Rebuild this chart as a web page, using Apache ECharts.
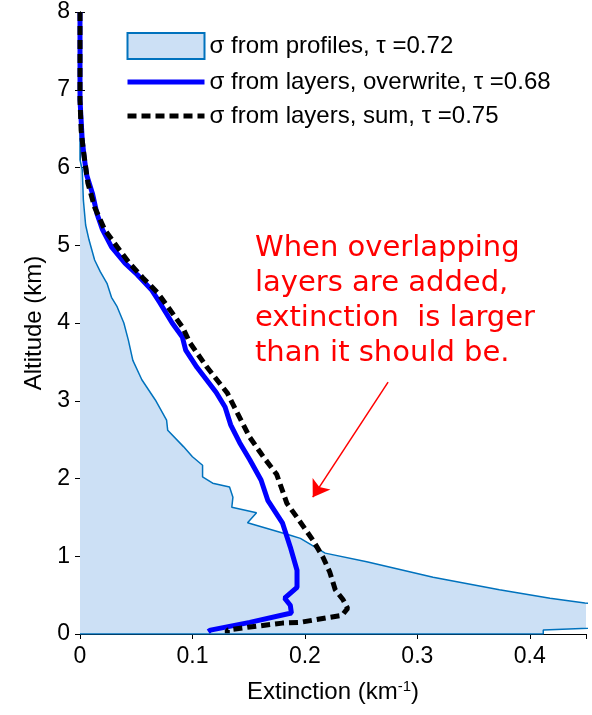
<!DOCTYPE html>
<html><head><meta charset="utf-8">
<script src="https://cdn.jsdelivr.net/npm/echarts@6/dist/echarts.min.js"></script>
<style>html,body{margin:0;padding:0;background:#fff}#c{width:592px;height:715px}</style>
</head><body><div id="c"></div>
<script>
// ---- data ----
const profileX = [0, 0, 0.002, 0.003, 0.005, 0.008, 0.013, 0.018, 0.024, 0.028, 0.033, 0.039, 0.043, 0.047, 0.055, 0.067, 0.077, 0.078, 0.092, 0.100, 0.109, 0.109, 0.118, 0.133, 0.136, 0.135, 0.157, 0.149, 0.187, 0.196, 0.218, 0.255, 0.314, 0.373, 0.418, 0.449, 0.52, 0.55, 0.50, 0.412, 0.412];
const profileY = [8, 6.10, 5.97, 5.58, 5.26, 5.07, 4.81, 4.66, 4.51, 4.33, 4.21, 4.00, 3.78, 3.52, 3.27, 3.01, 2.75, 2.62, 2.41, 2.28, 2.17, 2.02, 1.94, 1.89, 1.76, 1.63, 1.56, 1.43, 1.27, 1.23, 1.04, 0.93, 0.73, 0.57, 0.46, 0.40, 0.28, 0.15, 0.10, 0.05, 0];
const overwriteX = [0, 0, 0.001, 0.002, 0.004, 0.006, 0.011, 0.015, 0.020, 0.028, 0.040, 0.051, 0.064, 0.071, 0.082, 0.091, 0.094, 0.104, 0.121, 0.129, 0.134, 0.142, 0.151, 0.161, 0.167, 0.180, 0.187, 0.193, 0.193, 0.182, 0.187, 0.188, 0.151, 0.116, 0.114];
const overwriteY = [8.0, 6.87, 6.61, 6.35, 6.10, 5.90, 5.67, 5.41, 5.20, 4.98, 4.77, 4.62, 4.42, 4.26, 4.00, 3.82, 3.65, 3.43, 3.11, 2.92, 2.69, 2.46, 2.24, 1.98, 1.72, 1.43, 1.12, 0.82, 0.60, 0.46, 0.37, 0.27, 0.15, 0.05, 0.03];
const sumX = [0, 0, 0.001, 0.003, 0.007, 0.013, 0.022, 0.033, 0.044, 0.056, 0.069, 0.080, 0.091, 0.098, 0.113, 0.131, 0.140, 0.151, 0.163, 0.175, 0.184, 0.193, 0.207, 0.216, 0.222, 0.227, 0.234, 0.238, 0.233, 0.220, 0.196, 0.180, 0.151, 0.131, 0.131];
const sumY = [8, 6.87, 6.48, 6.22, 5.80, 5.49, 5.20, 4.98, 4.77, 4.58, 4.39, 4.17, 3.95, 3.74, 3.43, 3.10, 2.84, 2.53, 2.28, 2.05, 1.68, 1.50, 1.21, 0.99, 0.80, 0.57, 0.44, 0.33, 0.24, 0.21, 0.15, 0.14, 0.09, 0.05, 0.01];
const xTickValues = [0, 0.1, 0.2, 0.3, 0.4];
const xTickLabels = ['0', '0.1', '0.2', '0.3', '0.4'];
const yTickValues = [0, 1, 2, 3, 4, 5, 6, 7, 8];
const yTickLabels = ['0', '1', '2', '3', '4', '5', '6', '7', '8'];
const seriesNames = ['σ from profiles, τ =0.72', 'σ from layers, overwrite, τ =0.68', 'σ from layers, sum, τ =0.75'];
const noteLines = ['When overlapping', 'layers are added,', 'extinction  is larger', 'than it should be.'];
const arrowFrom = [0.274, 3.24];
const arrowTo = [0.207, 1.76];

// ---- chart ----
const zip = (xs, ys) => xs.map((x, i) => [x, ys[i]]);
const fillColor = '#cce0f5';
const profileColor = '#0072BD';
const tickFmt = (vals, labs) => v => { const i = vals.findIndex(t => Math.abs(t - v) < 1e-9); return i >= 0 ? labs[i] : ''; };
const axisFont = { fontFamily: 'Liberation Sans, Arial, sans-serif', fontSize: 23, color: '#000' };

const chart = echarts.init(document.getElementById('c'), null, { renderer: 'canvas' });
chart.setOption({
  animation: false,
  backgroundColor: '#fff',
  grid: { left: 80, right: 6, top: 12, bottom: 81, containLabel: false },
  xAxis: [{
    type: 'value', min: 0, max: 0.45, interval: 0.1, position: 'bottom',
    axisLine: { lineStyle: { color: '#000', width: 1 } },
    axisTick: { inside: true, length: 5, lineStyle: { color: '#000' } },
    splitLine: { show: false },
    axisLabel: Object.assign({ margin: 11, showMaxLabel: false, formatter: tickFmt(xTickValues, xTickLabels) }, axisFont),
    name: 'Extinction (km{sup|-1})', nameLocation: 'middle', nameGap: 45,
    nameTextStyle: { fontFamily: 'Liberation Sans, Arial, sans-serif', fontSize: 24, color: '#000',
      rich: { sup: { fontFamily: 'Liberation Sans, Arial, sans-serif', fontSize: 15, color: '#000', verticalAlign: 'top', padding: [0, 0, 12, 0] } } }
  }, {
    type: 'value', min: 0, max: 0.45, interval: 0.1, position: 'top',
    axisLine: { lineStyle: { color: '#000', width: 1 } },
    axisTick: { inside: true, length: 5, lineStyle: { color: '#000' } },
    axisLabel: { show: false }, splitLine: { show: false }
  }],
  yAxis: [{
    type: 'value', min: 0, max: 8, interval: 1, position: 'left',
    axisLine: { show: true, lineStyle: { color: '#000', width: 1 } },
    axisTick: { show: true, inside: true, length: 5, lineStyle: { color: '#000' } },
    splitLine: { show: false },
    axisLabel: Object.assign({ margin: 10, formatter: tickFmt(yTickValues, yTickLabels) }, axisFont),
    name: 'Altitude (km)', nameLocation: 'middle', nameGap: 31,
    nameTextStyle: { fontFamily: 'Liberation Sans, Arial, sans-serif', fontSize: 24, color: '#000' }
  }, {
    type: 'value', min: 0, max: 8, interval: 1, position: 'right',
    axisLine: { show: true, lineStyle: { color: '#000', width: 1 } },
    axisTick: { show: true, inside: true, length: 5, lineStyle: { color: '#000' } },
    axisLabel: { show: false }, splitLine: { show: false }
  }],
  legend: {
    orient: 'vertical', left: 125, top: 32, padding: 0, itemWidth: 77, itemHeight: 26, itemGap: 10,
    textStyle: { fontFamily: 'Liberation Sans, Arial, sans-serif', fontSize: 24, color: '#000' },
    selectedMode: false,
    data: [
      { name: seriesNames[0], icon: 'rect', itemStyle: { color: fillColor, borderColor: profileColor, borderWidth: 2 } },
      { name: seriesNames[1], itemStyle: { opacity: 0 }, lineStyle: { width: 5, color: '#0000ff', opacity: 1 } },
      { name: seriesNames[2], itemStyle: { opacity: 0 }, lineStyle: { width: 5, color: '#000', type: [9, 5], opacity: 1 } }
    ]
  },
  graphic: [{
    type: 'text', left: 255, top: 231, silent: true,
    style: { text: noteLines.join('\n'), fill: '#ff0000', font: '29px "DejaVu Sans", Verdana, sans-serif', lineHeight: 35 }
  }],
  series: [{
    name: seriesNames[0], type: 'custom', z: 1,
    itemStyle: { color: fillColor },
    data: zip(profileX, profileY),
    encode: { x: 0, y: 1 },
    renderItem: (params, api) => {
      if (params.dataIndex !== 0) return;
      const pts = profileX.map((x, i) => api.coord([x, profileY[i]]));
      pts.push(api.coord([0, 0]));
      const cs = params.coordSys;
      return {
        type: 'polygon', silent: true,
        shape: { points: pts },
        style: { fill: fillColor },
        clipPath: { type: 'rect', shape: { x: cs.x, y: cs.y, width: cs.width, height: cs.height } }
      };
    }
  }, {
    name: 'profile-outline', type: 'line', z: 2, showSymbol: false, symbol: 'none',
    data: zip(profileX, profileY).concat([[0, 0]]),
    lineStyle: { color: profileColor, width: 1.5 }, itemStyle: { color: profileColor }
  }, {
    name: seriesNames[1], type: 'line', z: 3, showSymbol: false, symbol: 'none',
    data: zip(overwriteX, overwriteY),
    lineStyle: { color: '#0000ff', width: 5 }, itemStyle: { color: '#0000ff' }
  }, {
    name: seriesNames[2], type: 'line', z: 4, showSymbol: false, symbol: 'none',
    data: zip(sumX, sumY),
    lineStyle: { color: '#000', width: 5, type: [9, 5] }, itemStyle: { color: '#000' },
    markLine: {
      silent: true, symbol: ['none', 'arrow'], symbolSize: 16, label: { show: false },
      lineStyle: { color: '#ff0000', width: 1.5, type: 'solid' },
      data: [[{ coord: arrowFrom }, { coord: arrowTo }]]
    }
  }]
});
</script></body></html>
